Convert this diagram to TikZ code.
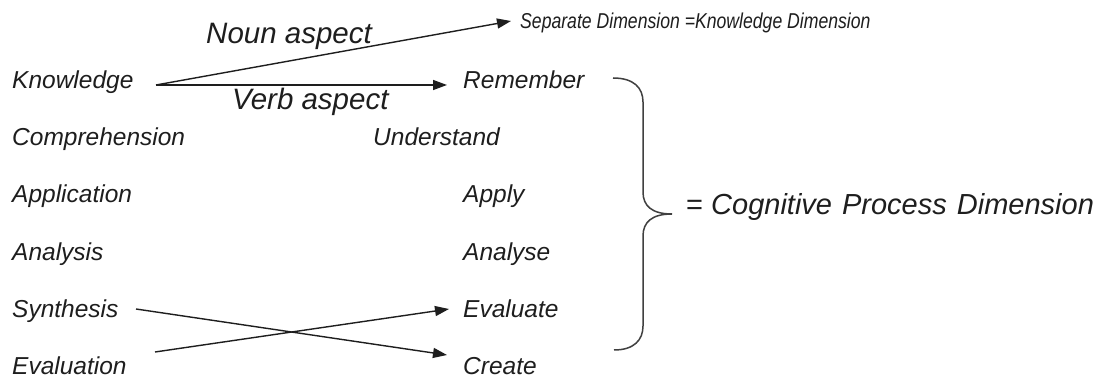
\documentclass[tikz,border=0pt]{standalone}
\usepackage{fontspec}
\setmainfont{Liberation Sans}
\usetikzlibrary{arrows.meta}
\definecolor{ink}{HTML}{1E1E1E}
\tikzset{
  term/.style={anchor=base west, inner sep=0pt, text=ink,
    font=\fontsize{24.5}{28}\selectfont\itshape},
  biglabel/.style={anchor=base west, inner sep=0pt, text=ink,
    font=\fontsize{29.5}{34}\selectfont\itshape},
  link/.style={draw=ink, line width=1.4pt,
    -{Triangle[length=14pt,width=10pt]}},
  bracket/.style={draw=ink!85, line width=1.5pt}
}
\begin{document}
\begin{tikzpicture}[x=1pt,y=-1pt]
  \useasboundingbox (0,0) rectangle (1111,379);
  \fill[white] (0,0) rectangle (1111,379);

  % old taxonomy (left column)
  \node[term] (know)  at (12,88.5)  {Knowledge};
  \node[term] (comp)  at (12,146)   {Comprehension};
  \node[term] (appl)  at (12,203)   {Application};
  \node[term] (anal)  at (12,260.5) {Analysis};
  \node[term] (synth) at (12,317.5) {Synthesis};
  \node[term] (evaln) at (12,374.5) {Evaluation};

  % revised taxonomy (right column)
  \node[term, font=\fontsize{21.5}{26}\selectfont\itshape] (sep) at (520,28.5)
    {\scalebox{0.82}[1]{Separate Dimension =Knowledge Dimension}};
  \node[term] (rem)   at (463,88.5) {Remember};
  \node[term] (und)   at (373,146)  {Understand};
  \node[term] (apply) at (463,203)  {Apply};
  \node[term] (anse)  at (463,260.5){Analyse};
  \node[term] (evte)  at (463,317.5){Evaluate};
  \node[term] (crt)   at (463,374.5){Create};

  % connector end points
  \coordinate (kOut)  at (156,85);
  \coordinate (sepIn) at (511,21);
  \coordinate (remIn) at (447,85);
  \coordinate (synOut) at (136,309);
  \coordinate (crtIn)  at (447,355);
  \coordinate (evnOut) at (155,352);
  \coordinate (evtIn)  at (449,309);

  \draw[link] (kOut) -- (sepIn);
  \draw[link] (kOut) -- (remIn);
  \draw[link] (synOut) -- (crtIn);
  \draw[link] (evnOut) -- (evtIn);

  \node[biglabel] (noun) at (206,43.5) {Noun aspect};
  \node[biglabel] (verb) at (232,110)  {Verb aspect};

  % curly bracket grouping the cognitive processes
  \coordinate (brTop) at (613,78);
  \coordinate (brTip) at (672,214);
  \coordinate (brBot) at (614,350);
  \draw[bracket] (brTop) .. controls (634,78) and (643,88) .. (643,102)
    -- (643,192) .. controls (643,206) and (652,214) .. (brTip)
    .. controls (652,214) and (643,222) .. (643,236)
    -- (643,326) .. controls (643,340) and (634,350) .. (brBot);

  \node[biglabel, font=\fontsize{29}{34}\selectfont\itshape] (cpd) at (686,215)
    {\upshape=\itshape\ Cognitive\kern2pt\ Process\kern2pt\ Dimension};
\end{tikzpicture}
\end{document}
